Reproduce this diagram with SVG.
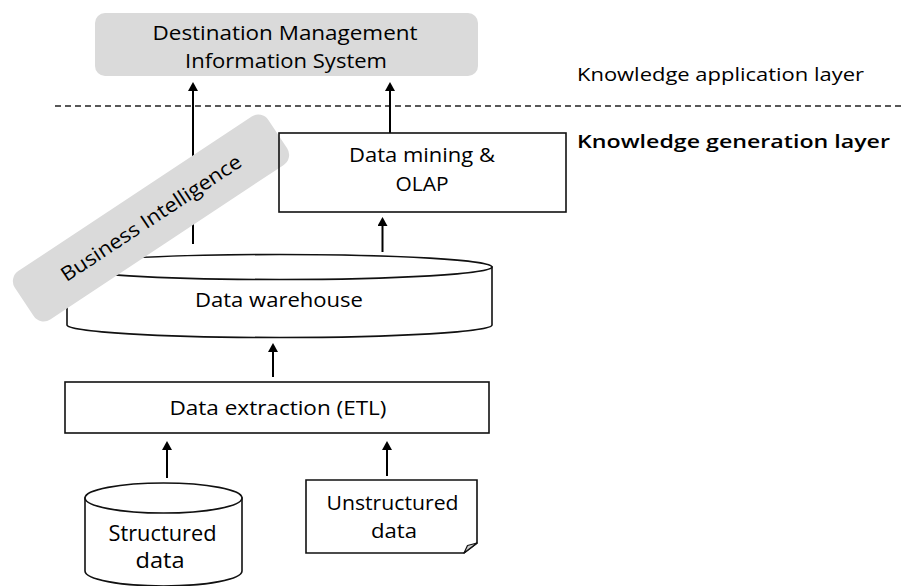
<svg xmlns="http://www.w3.org/2000/svg" width="904" height="586" viewBox="0 0 904 586">
<style>
  text { font-family: "Open Sans", "Noto Sans", "Liberation Sans", sans-serif; fill: #000; }
  .c { text-anchor: middle; }
  .shape { fill: #fff; stroke: #111; stroke-width: 1.6; }
  .open { fill: none; stroke: #111; stroke-width: 1.6; }
  .grey { fill: #dadada; stroke: none; }
  .arrow { stroke: #000; stroke-width: 2; fill: none; marker-end: url(#ah); }
  .dash { stroke: #222; stroke-width: 1.4; stroke-dasharray: 6 4; fill: none; }
</style>
<defs>
  <marker id="ah" markerUnits="userSpaceOnUse" markerWidth="10" markerHeight="10" viewBox="0 0 9 10" refX="5" refY="5" orient="auto">
    <path d="M0,0 L9,5 L0,10 Z" fill="#000"/>
  </marker>
</defs>
<rect width="904" height="586" fill="#fff"/>

<g id="dmis">
  <rect class="grey" x="95" y="13" width="383" height="63" rx="10"/>
  <text class="c" x="285" y="40" font-size="20.5" textLength="265" lengthAdjust="spacingAndGlyphs">Destination Management</text>
  <text class="c" x="286" y="68" font-size="20.5" textLength="202" lengthAdjust="spacingAndGlyphs">Information System</text>
</g>

<g id="layers">
  <line class="dash" x1="55" y1="106" x2="904" y2="106"/>
  <text x="577" y="81" font-size="17.5" fill="#1a1a1a" textLength="287" lengthAdjust="spacingAndGlyphs">Knowledge application layer</text>
  <text x="577" y="147.5" font-size="18.5" font-weight="600" textLength="313" lengthAdjust="spacingAndGlyphs">Knowledge generation layer</text>
</g>

<g id="connectors">
  <line class="arrow" x1="193" y1="244" x2="193" y2="86"/>
  <line class="arrow" x1="390" y1="133" x2="390" y2="86"/>
  <line class="arrow" x1="382.5" y1="252" x2="382.5" y2="221"/>
  <line class="arrow" x1="273" y1="377" x2="273" y2="347"/>
  <line class="arrow" x1="167" y1="478" x2="167" y2="445"/>
  <line class="arrow" x1="387" y1="476" x2="387" y2="445"/>
</g>

<g id="warehouse">
  <path class="shape" d="M67,267 V325 A212.5,12.5 0 0 0 492,325 V267 Z"/>
  <ellipse class="shape" cx="279.5" cy="267" rx="212.5" ry="12.5"/>
  <text class="c" x="279" y="306.5" font-size="19.5" textLength="168" lengthAdjust="spacingAndGlyphs">Data warehouse</text>
</g>

<g id="etl">
  <rect class="shape" x="65" y="382" width="424" height="51"/>
  <text class="c" x="278" y="414.5" font-size="20" textLength="217" lengthAdjust="spacingAndGlyphs">Data extraction (ETL)</text>
</g>

<g id="structured">
  <path class="shape" d="M85,498 V571 A78.5,15 0 0 0 242,571 V498 Z"/>
  <ellipse class="shape" cx="163.5" cy="498" rx="78.5" ry="15"/>
  <text class="c" x="162.5" y="540.5" font-size="21" textLength="108" lengthAdjust="spacingAndGlyphs">Structured</text>
  <text class="c" x="160" y="567.5" font-size="21" textLength="49" lengthAdjust="spacingAndGlyphs">data</text>
</g>

<g id="unstructured">
  <path class="shape" d="M306,480 H477 V543 L464,553 H306 Z"/>
  <path d="M477,543 L464,553 L467.5,545.5 Z" fill="#cfcfcf" stroke="#111" stroke-width="1.2" stroke-linejoin="round"/>
  <text class="c" x="392.5" y="509.5" font-size="20" textLength="132" lengthAdjust="spacingAndGlyphs">Unstructured</text>
  <text class="c" x="394" y="537.5" font-size="20" textLength="46" lengthAdjust="spacingAndGlyphs">data</text>
</g>

<g id="business-intelligence" transform="translate(151,218) rotate(-33.5)">
  <rect class="grey" x="-152" y="-29" width="304" height="58" rx="12"/>
  <text class="c" x="0" y="7" font-size="20" textLength="212" lengthAdjust="spacingAndGlyphs">Business Intelligence</text>
</g>

<g id="data-mining">
  <rect class="open" x="279" y="133" width="287" height="79"/>
  <text class="c" x="422" y="162" font-size="20" textLength="146" lengthAdjust="spacingAndGlyphs">Data mining &amp;</text>
  <text class="c" x="422" y="191" font-size="20" textLength="53" lengthAdjust="spacingAndGlyphs">OLAP</text>
</g>
</svg>
